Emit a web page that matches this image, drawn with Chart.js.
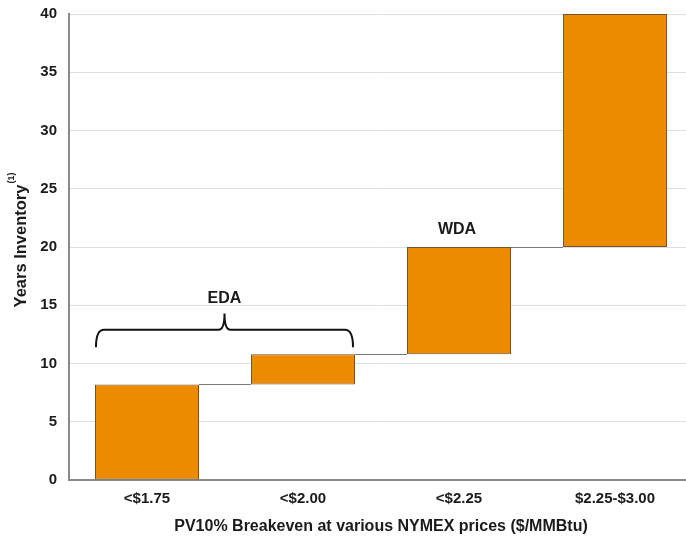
<!DOCTYPE html>
<html>
<head>
<meta charset="utf-8">
<script src="https://cdn.jsdelivr.net/npm/chart.js@4.4.1/dist/chart.umd.min.js"></script>
<style>
  html, body { margin: 0; padding: 0; background: #fff; overflow: hidden; }
  #wrap { width: 694px; height: 546px; }
</style>
</head>
<body>
<div id="wrap"><canvas id="chart"></canvas></div>
<script>
// --- data ---
const categories = ['<$1.75', '<$2.00', '<$2.25', '$2.25-$3.00'];
const barStart = [0, 8.2, 10.8, 20];
const barEnd = [8.2, 10.8, 20, 40];
const yTicks = [0, 5, 10, 15, 20, 25, 30, 35, 40];

const FONT = '"Liberation Sans", Arial, Helvetica, sans-serif';
const TEXT = '#1a1a1a';

// connector lines between the floating bars
const connectors = {
    id: 'connectors',
    afterDatasetsDraw(chart) {
        const ctx = chart.ctx;
        const bars = chart.getDatasetMeta(0).data;
        const y = chart.scales.y;
        ctx.save();
        ctx.strokeStyle = '#7a7a7a';
        ctx.lineWidth = 1;
        for (let i = 0; i < bars.length - 1; i++) {
            const a = bars[i], b = bars[i + 1];
            const py = Math.round(y.getPixelForValue(barEnd[i])) + 0.5;
            ctx.beginPath();
            ctx.moveTo(a.x + a.width / 2, py);
            ctx.lineTo(b.x - b.width / 2, py);
            ctx.stroke();
        }
        ctx.restore();
    }
};

// EDA brace, WDA label, y-axis title with superscript
const notes = {
    id: 'notes',
    afterDraw(chart) {
        const ctx = chart.ctx;
        const bars = chart.getDatasetMeta(0).data;
        const y = chart.scales.y;
        ctx.save();

        // brace over the first two bars
        const x0 = bars[0].x - bars[0].width / 2 + 1;
        const x1 = bars[1].x + bars[1].width / 2 - 2;
        const xm = (x0 + x1) / 2;
        const yb = y.getPixelForValue(11.4);
        const yh = y.getPixelForValue(12.9);
        const yp = y.getPixelForValue(14.3);
        ctx.strokeStyle = '#111';
        ctx.lineWidth = 2;
        ctx.beginPath();
        ctx.moveTo(x0, yb);
        ctx.quadraticCurveTo(x0, yh, x0 + 8, yh);
        ctx.lineTo(xm - 6, yh);
        ctx.quadraticCurveTo(xm, yh, xm, yp);
        ctx.quadraticCurveTo(xm, yh, xm + 6, yh);
        ctx.lineTo(x1 - 8, yh);
        ctx.quadraticCurveTo(x1, yh, x1, yb);
        ctx.stroke();

        ctx.fillStyle = TEXT;
        ctx.font = 'bold 16px ' + FONT;
        ctx.textAlign = 'center';
        ctx.textBaseline = 'middle';
        ctx.fillText('EDA', xm, y.getPixelForValue(15.6));
        ctx.fillText('WDA', bars[2].x - 2, y.getPixelForValue(21.5));

        // y title
        const main = 'Years Inventory';
        ctx.font = 'bold 16.5px ' + FONT;
        const w1 = ctx.measureText(main).width;
        ctx.font = 'bold 9px ' + FONT;
        const w2 = ctx.measureText('(1)').width;
        const total = w1 + w2 + 1;
        ctx.translate(21, 240);
        ctx.rotate(-Math.PI / 2);
        ctx.textAlign = 'left';
        ctx.font = 'bold 16.5px ' + FONT;
        ctx.fillText(main, -total / 2, 0);
        ctx.font = 'bold 9px ' + FONT;
        ctx.fillText('(1)', -total / 2 + w1 + 1, -9);
        ctx.restore();
    }
};

new Chart(document.getElementById('chart'), {
    type: 'bar',
    data: {
        labels: categories,
        datasets: [{
            data: barStart.map((s, i) => [s, barEnd[i]]),
            backgroundColor: '#EC8B00',
            borderColor: '#6e5434',
            borderWidth: 1,
            borderSkipped: false,
            barPercentage: 0.667,
            categoryPercentage: 1
        }]
    },
    options: {
        responsive: true,
        maintainAspectRatio: false,
        animation: false,
        layout: { padding: { top: 14, left: 0, right: 1, bottom: 0 } },
        plugins: {
            legend: { display: false },
            tooltip: { enabled: false }
        },
        scales: {
            x: {
                grid: { display: false },
                border: { color: '#8a8a8a', width: 2 },
                ticks: {
                    color: TEXT,
                    padding: 2,
                    font: { family: FONT, size: 15, weight: 'bold' }
                },
                title: {
                    display: true,
                    text: 'PV10% Breakeven at various NYMEX prices ($/MMBtu)',
                    color: TEXT,
                    padding: { top: 0, bottom: 10 },
                    font: { family: FONT, size: 16, weight: 'bold' }
                },
                afterFit(scale) { scale.height = 66; }
            },
            y: {
                min: 0,
                max: 40,
                afterBuildTicks(scale) { scale.ticks = yTicks.map(v => ({ value: v })); },
                grid: {
                    color: '#dedede',
                    lineWidth: 1,
                    drawTicks: false
                },
                border: { color: '#8a8a8a', width: 2 },
                ticks: {
                    color: TEXT,
                    padding: 12,
                    font: { family: FONT, size: 15, weight: 'bold' }
                },
                afterFit(scale) {
                    scale.width = 69;
                    scale.paddingTop = 0;
                    scale.paddingBottom = 0;
                }
            }
        }
    },
    plugins: [connectors, notes]
});
</script>
</body>
</html>
